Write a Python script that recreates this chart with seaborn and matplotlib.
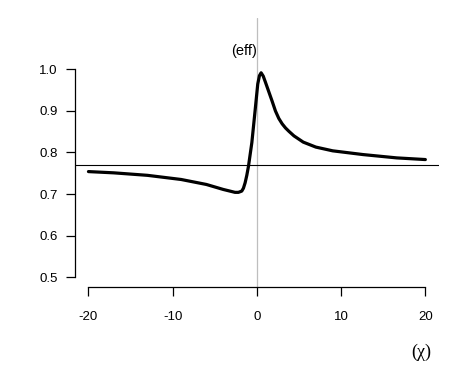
import matplotlib
matplotlib.use("Agg")
import matplotlib.pyplot as plt
import seaborn as sns
import pandas as pd

# values
chi = [-20, -17, -13, -9, -6, -4, -3, -2.6, -2.2, -1.8, -1.6, -1.4, -1.2,
       -1.0, -0.6, -0.2, 0.1, 0.3, 0.5, 0.75, 1.0, 1.4, 1.8, 2.2, 2.6, 3.0,
       3.4, 3.8, 4.4, 5.5, 7, 9, 12.6, 16.6, 20]
eff = [0.754, 0.751, 0.745, 0.735, 0.723, 0.711, 0.706, 0.704, 0.704, 0.707,
       0.714, 0.727, 0.745, 0.767, 0.824, 0.904, 0.965, 0.985, 0.992, 0.984,
       0.970, 0.947, 0.924, 0.900, 0.882, 0.869, 0.859, 0.851, 0.840, 0.825,
       0.813, 0.804, 0.795, 0.787, 0.783]
ref_level = 0.77
x_ticks = [-20, -10, 0, 10, 20]
y_ticks = [0.5, 0.6, 0.7, 0.8, 0.9, 1.0]

sns.set_style("white")
plt.rcParams['font.family'] = ['Liberation Sans', 'DejaVu Sans']

df = pd.DataFrame({'chi': chi, 'eff': eff})

fig = plt.figure(figsize=(4.6, 3.81), dpi=100)
ax = fig.add_axes([0.163, 0.2467, 0.791, 0.7061])

ax.axvline(0, color='#bebebe', lw=0.9, zorder=1)
ax.axhline(ref_level, color='black', lw=0.8, zorder=2)
sns.lineplot(data=df, x='chi', y='eff', ax=ax, color='black', lw=2.3,
             sort=False, zorder=3)

ax.set_xlim(-21.6, 21.6)
ax.set_ylim(0.476, 1.124)
ax.set_xticks(x_ticks)
ax.set_xticklabels([str(t) for t in x_ticks])
ax.set_yticks(y_ticks)
ax.set_yticklabels([f'{t:.1f}' for t in y_ticks])
ax.set_xlabel('')
ax.set_ylabel('')

for s in ['top', 'right']:
    ax.spines[s].set_visible(False)
ax.spines['left'].set_bounds(0.5, 1.0)
ax.spines['bottom'].set_bounds(-20, 20)
for s in ['left', 'bottom']:
    ax.spines[s].set_color('black')
    ax.spines[s].set_linewidth(0.9)

ax.tick_params(axis='both', direction='out', length=6.5, width=0.9,
               color='black', labelsize=9.5, labelcolor='black',
               left=True, bottom=True)
ax.tick_params(axis='x', pad=11)
ax.tick_params(axis='y', pad=6)

ax.text(0, 1.045, '(eff)', ha='right', va='center', fontsize=10.5,
        color='black')
fig.text(0.9167, 0.0743, '(\u03c7)', ha='center', va='center', fontsize=13,
         family=['Liberation Serif', 'DejaVu Serif'], color='black')

fig.savefig('out.png', dpi=100)
